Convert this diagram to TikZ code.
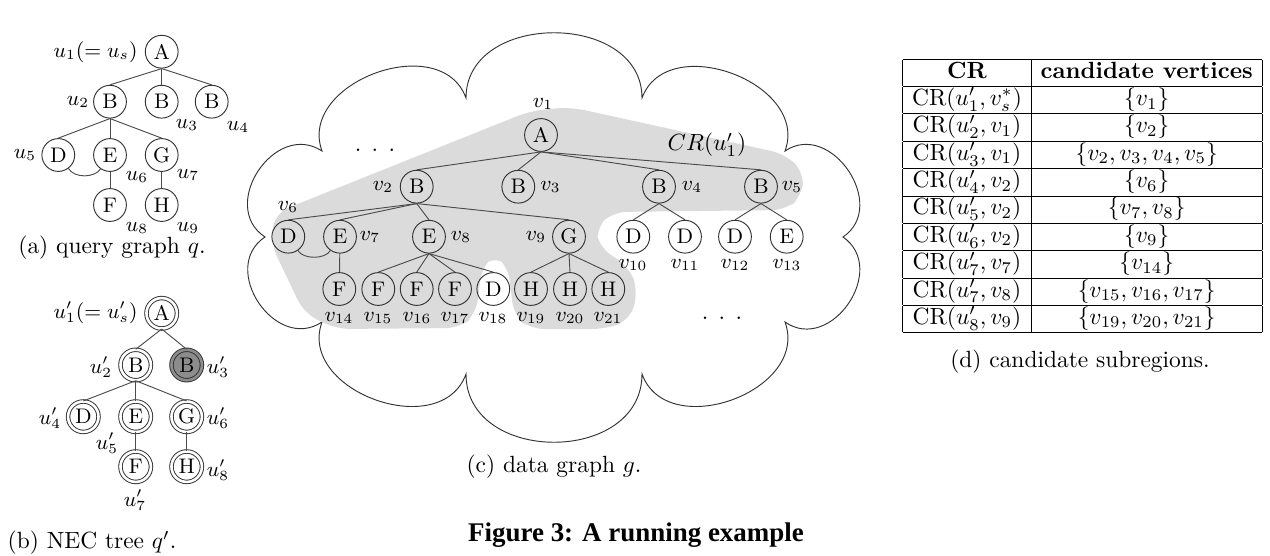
\documentclass[tikz,border=0pt]{standalone}
\usepackage{fontspec}
\newfontfamily\figfont{Liberation Serif}
\begin{document}
\begin{tikzpicture}[x=0.015cm,y=-0.015cm]

\def\vd{14pt}
\tikzstyle{vtx} = [
	draw=black!80, circle, inner sep=0pt,
	minimum size=\vd, font=\small ];
\tikzstyle{nec} = [vtx, double, double distance=1.1pt, minimum size=13pt];
\tikzstyle{lbl} = [inner sep=0pt, font=\small];
\tikzstyle{edge} = [draw=black!70];
\tikzstyle{captxt} = [inner sep=0pt];
\useasboundingbox (0,0) rectangle (1270,556);

% (a) query graph
\node[vtx] (q1) at (161.7,51.7) {A};
\node[vtx] (q2) at (110,101.7) {B};
\node[vtx] (q3) at (161.7,101.7) {B};
\node[vtx] (q4) at (211.7,101.7) {B};
\node[vtx] (q5) at (58.3,155) {D};
\node[vtx] (q6) at (110,155) {E};
\node[vtx] (q7) at (161.7,155) {G};
\node[vtx] (q8) at (110,205) {F};
\node[vtx] (q9) at (161.7,205) {H};

\foreach \c in {q2,q3,q4} \draw[edge] (q1.south) -- (\c.north);
\foreach \c in {q5,q6,q7} \draw[edge] (q2.south) -- (\c.north);
\draw[edge] (q6) -- (q8);
\draw[edge] (q7) -- (q9);
\draw[edge] (q5.-53) .. controls +(6,10) and +(-6,9) .. (q6.-124);

\node[lbl,anchor=east] (lq1) at (138,52) {$u_1(= u_s)$};
\node[lbl] (lq2) at (78,102) {$u_2$};
\node[lbl] (lq3) at (187,125) {$u_3$};
\node[lbl] (lq4) at (238,127) {$u_4$};
\node[lbl] (lq5) at (25,155) {$u_5$};
\node[lbl] (lq6) at (137,177) {$u_6$};
\node[lbl] (lq7) at (188,175) {$u_7$};
\node[lbl] (lq8) at (137,228) {$u_8$};
\node[lbl] (lq9) at (188,228) {$u_9$};
\node[captxt] (capa) at (112,248) {(a) query graph $q$.};

% (b) NEC tree
\node[nec] (n1) at (161.7,313.3) {A};
\node[nec] (n2) at (135.7,365) {B};
\node[nec,fill=black!45,double=black!45] (n3) at (186.7,365) {B};
\node[nec] (n4) at (83.3,416.7) {D};
\node[nec] (n5) at (135.7,416.7) {E};
\node[nec] (n6) at (186.7,416.7) {G};
\node[nec] (n7) at (135.7,466.7) {F};
\node[nec] (n8) at (186.7,466.7) {H};

\foreach \c in {n2,n3} \draw[edge] (n1.south) -- (\c.north);
\foreach \c in {n4,n5,n6} \draw[edge] (n2.south) -- (\c.north);
\draw[edge] (n5) -- (n7);
\draw[edge] (n6) -- (n8);

\node[lbl,anchor=east] (ln1) at (138,313) {$u'_1(= u'_s)$};
\node[lbl] (ln2) at (101,367) {$u'_2$};
\node[lbl] (ln3) at (218,367) {$u'_3$};
\node[lbl] (ln4) at (50,418) {$u'_4$};
\node[lbl] (ln5) at (107,443) {$u'_5$};
\node[lbl] (ln6) at (218,418) {$u'_6$};
\node[lbl] (ln7) at (135,500) {$u'_7$};
\node[lbl] (ln8) at (218,470) {$u'_8$};
\node[captxt] (capb) at (92,543) {(b) NEC tree $q'$.};

% (c) data graph: cloud and CR region
\draw[black!80] (466,98) .. controls (466,11) and (642,11) .. (642,98)
	.. controls (667,30) and (810,83) .. (785,151)
	.. controls (831,120) and (889,206) .. (843,237)
	.. controls (889,269) and (831,354) .. (785,322)
	.. controls (810,391) and (667,443) .. (642,374)
	.. controls (642,465) and (466,465) .. (466,374)
	.. controls (441,443) and (297,391) .. (322,322)
	.. controls (275.5,353) and (218.5,268) .. (265,237)
	.. controls (218,206) and (275,120) .. (322,151)
	.. controls (297,82.5) and (441,29.5) .. (466,98) -- cycle;

\fill[black!14, rounded corners=6pt] (530,111) -- (570,107) -- (785,154)
	-- (804,172) -- (802,196) -- (786,210) -- (612,212) -- (596,228)
	-- (598,246) -- (630,268) -- (638,292) -- (630,320) -- (606,329)
	-- (530,329) -- (514,316) -- (508,266) -- (495,255) -- (482,266)
	-- (476,314) -- (460,328) -- (336,329) -- (304,313) -- (271,244)
	-- (275,213) -- cycle;

\node[vtx] (v1) at (541,135) {A};
\node[vtx] (v2) at (416.7,186.7) {B};
\node[vtx] (v3) at (518.3,186.7) {B};
\node[vtx] (v4) at (659,186.7) {B};
\node[vtx] (v5) at (761,186.7) {B};
\node[vtx] (v6) at (288.3,236.7) {D};
\node[vtx] (v7) at (340,236.7) {E};
\node[vtx] (v8) at (429,236.7) {E};
\node[vtx] (v9) at (569,236.7) {G};
\node[vtx] (v10) at (633.3,236.7) {D};
\node[vtx] (v11) at (685,236.7) {D};
\node[vtx] (v12) at (735,236.7) {D};
\node[vtx] (v13) at (786.7,236.7) {E};
\node[vtx] (v14) at (339.3,289) {F};
\node[vtx] (v15) at (378.3,289) {F};
\node[vtx] (v16) at (416.7,289) {F};
\node[vtx] (v17) at (455,289) {F};
\node[vtx] (v18) at (493.3,289) {D};
\node[vtx] (v19) at (531,289) {H};
\node[vtx] (v20) at (570,289) {H};
\node[vtx] (v21) at (608.3,289) {H};

\foreach \c in {v2,v3,v4,v5} \draw[edge] (v1.south) -- (\c.north);
\foreach \c in {v6,v7,v8,v9} \draw[edge] (v2.south) -- (\c.north);
\foreach \c in {v10,v11} \draw[edge] (v4.south) -- (\c.north);
\foreach \c in {v12,v13} \draw[edge] (v5.south) -- (\c.north);
\foreach \c in {v15,v16,v17,v18} \draw[edge] (v8.south) -- (\c.north);
\foreach \c in {v19,v20,v21} \draw[edge] (v9.south) -- (\c.north);
\draw[edge] (v7) -- (v14);
\draw[edge] (v6.-55) .. controls +(5,9) and +(-5,9) .. (v7.-125);

\node[lbl] (lv1) at (543,104) {$v_1$};
\node[lbl] (lv2) at (383,187) {$v_2$};
\node[lbl] (lv3) at (550.5,187) {$v_3$};
\node[lbl] (lv4) at (692,187) {$v_4$};
\node[lbl] (lv5) at (792,187) {$v_5$};
\node[lbl] (lv6) at (288,207) {$v_6$};
\node[lbl] (lv7) at (370,237) {$v_7$};
\node[lbl] (lv8) at (461,237) {$v_8$};
\node[lbl] (lv9) at (536,237) {$v_9$};
\foreach \i/\x in {10/633,11/685,12/735,13/787}
	\node[lbl] (lv\i) at (\x,265) {$v_{\i}$};
\foreach \i/\x in {14/339,15/378,16/417,17/455,18/493,19/531,20/570,21/608}
	\node[lbl] (lv\i) at (\x,318) {$v_{\i}$};

\node[captxt] (cr) at (707,145) {$CR(u'_1)$};
\node[captxt] (dots1) at (375,150) {. . .};
\node[captxt] (dots2) at (722,318) {. . .};
\node[captxt] (capc) at (554,467) {(c) data graph $g$.};

% (d) candidate subregions
\node[inner sep=0pt] (crtab) at (1082.5,196) {%
\setlength{\tabcolsep}{4pt}\renewcommand{\arraystretch}{0.94}%
\begin{tabular}{|c|c|}
\hline
\textbf{CR} & \textbf{candidate vertices}\\ \hline
CR$(u'_1, v^*_s)$ & $\{v_1\}$\\ \hline
CR$(u'_2, v_1)$ & $\{v_2\}$\\ \hline
CR$(u'_3, v_1)$ & $\{v_2, v_3, v_4, v_5\}$\\ \hline
CR$(u'_4, v_2)$ & $\{v_6\}$\\ \hline
CR$(u'_5, v_2)$ & $\{v_7, v_8\}$\\ \hline
CR$(u'_6, v_2)$ & $\{v_9\}$\\ \hline
CR$(u'_7, v_7)$ & $\{v_{14}\}$\\ \hline
CR$(u'_7, v_8)$ & $\{v_{15}, v_{16}, v_{17}\}$\\ \hline
CR$(u'_8, v_9)$ & $\{v_{19}, v_{20}, v_{21}\}$\\ \hline
\end{tabular}};
\node[captxt] (capd) at (1080,362) {(d) candidate subregions.};

\node[captxt,font=\figfont\fontsize{11.5}{13}\selectfont\bfseries] (fig) at (636,535) {Figure 3: A running example};

\end{tikzpicture}
\end{document}
